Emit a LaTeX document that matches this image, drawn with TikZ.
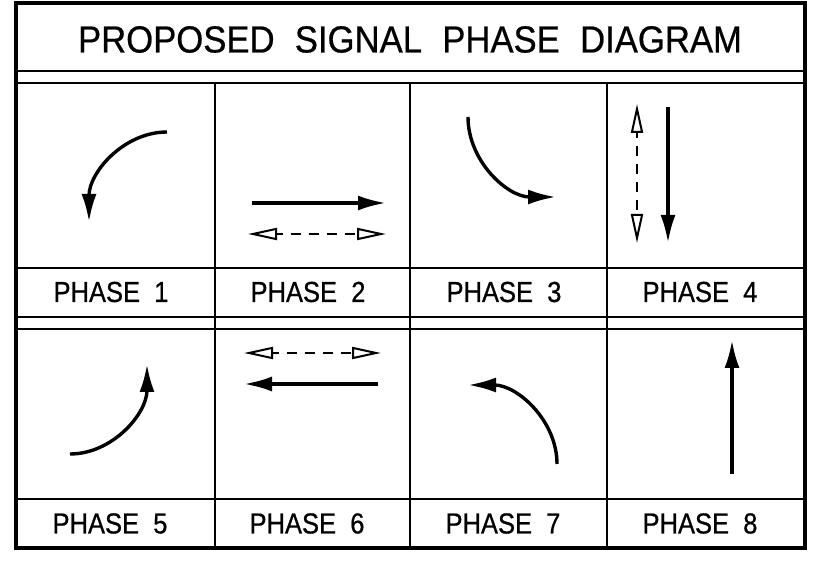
\documentclass[tikz,border=0pt]{standalone}
\usepackage{fontspec}
\newfontfamily\labfont[FakeStretch=0.88,WordSpace=2.0,FakeBold=0.6]{Liberation Sans}
\newfontfamily\ttlfont[FakeStretch=0.92,WordSpace=2.1,FakeBold=0.6]{Liberation Sans}
\usetikzlibrary{arrows.meta}
\tikzset{
  frame/.style={line width=3.6pt},
  grid/.style={line width=2.2pt},
  lab/.style={inner sep=0pt, font=\labfont\fontsize{29}{29}\selectfont},
  ttl/.style={inner sep=0pt, font=\ttlfont\fontsize{37.7}{38}\selectfont},
  solidarrow/.style={line width=3.4pt, -{Latex[length=28pt,width=15pt]}},
  openarrows/.style={line width=2.4pt, dash pattern=on 10pt off 8pt, dash phase=4pt,
     {Triangle[open,length=29pt,width=12pt,line width=2pt]}-{Triangle[open,length=29pt,width=12pt,line width=2pt]}},
}
\begin{document}
\begin{tikzpicture}[x=1pt,y=-1pt]
\useasboundingbox (0,0) rectangle (817,561);
\fill[white] (0,0) rectangle (817,561);
% frame and grid
\draw[frame] (16,3) rectangle (805,548);
\draw[grid] (16,71) -- (805,71);
\draw[grid] (16,83) -- (805,83);
\draw[grid] (16,268) -- (805,268);
\draw[grid] (16,317) -- (805,317);
\draw[grid] (16,329) -- (805,329);
\draw[grid] (16,499) -- (805,499);
\draw[grid] (215,83) -- (215,548);
\draw[grid] (410,83) -- (410,548);
\draw[grid] (607,83) -- (607,548);
% title
\node[ttl] (title) at (410,39.5) {PROPOSED SIGNAL PHASE DIAGRAM};
% labels
\node[lab] (p1) at (111,292) {PHASE 1};
\node[lab] (p2) at (308,292) {PHASE 2};
\node[lab] (p3) at (504,292) {PHASE 3};
\node[lab] (p4) at (700,292) {PHASE 4};
\node[lab] (p5) at (110,523.5) {PHASE 5};
\node[lab] (p6) at (307,523.5) {PHASE 6};
\node[lab] (p7) at (503,523.5) {PHASE 7};
\node[lab] (p8) at (700,523.5) {PHASE 8};
% phase 1
\draw[solidarrow] (167,132) .. controls (123.9,132) and (89,172.3) .. (89,222);
% phase 2
\draw[solidarrow] (252,203) -- (386,203);
\draw[openarrows] (248,234) -- (386,234);
% phase 3
\draw[solidarrow] (468,117) .. controls (468,161.2) and (507.4,197) .. (556,197);
% phase 4
\draw[openarrows] (637,104) -- (637,243);
\draw[solidarrow] (668,107) -- (668,243);
% phase 5
\draw[solidarrow] (70,454) .. controls (112.5,454) and (147,413.7) .. (147,364);
% phase 6
\draw[openarrows] (244,353) -- (381,353);
\draw[solidarrow] (378,384) -- (244,384);
% phase 7
\draw[solidarrow] (557,464) .. controls (557,420.4) and (517.2,385) .. (468,385);
% phase 8
\draw[solidarrow] (732,474) -- (732,340);
\end{tikzpicture}
\end{document}
